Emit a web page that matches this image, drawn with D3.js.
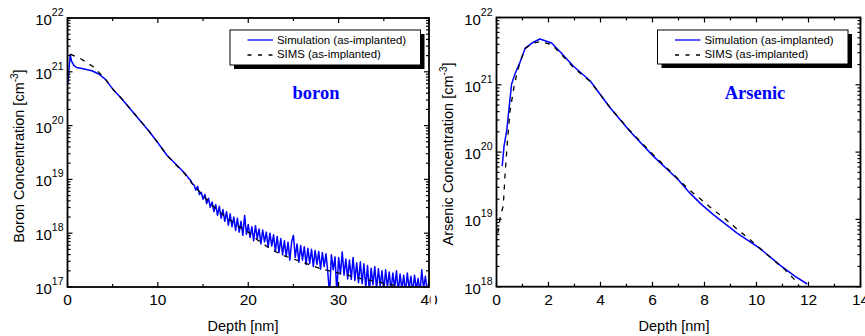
<!DOCTYPE html>
<html><head><meta charset="utf-8">
<script src="https://cdn.jsdelivr.net/npm/d3@7"></script>
<style>body{margin:0;background:#fff} svg{display:block}</style>
</head><body><svg id="c" width="865" height="336"></svg>
<script>
// ---------- DATA (depth nm, log10 concentration cm^-3) ----------
const boronSimHead = [[0.05,20.78],[0.15,21.0],[0.3,21.32],[0.45,21.2],[0.7,21.12],[1.0,21.08],[1.6,21.06],[2.7,21.02],[3.45,20.96],[4.2,20.86],[5.1,20.66],[6,20.5],[7,20.3],[8,20.1],[9,19.9],[10,19.68],[11,19.45],[12,19.28],[13,19.11]];
const boronSimTail = [[13.2,19.07],[13.4,19.02],[13.6,18.99],[13.8,18.92],[14.0,18.90],[14.2,18.80],[14.4,18.87],[14.6,18.72],[14.8,18.76],[15.0,18.63],
[15.2,18.72],[15.4,18.55],[15.6,18.65],[15.8,18.48],[16.0,18.58],[16.2,18.40],[16.4,18.53],[16.6,18.33],[16.8,18.50],[17.0,18.28],
[17.2,18.44],[17.4,18.22],[17.6,18.40],[17.8,18.15],[18.0,18.36],[18.2,18.12],[18.4,18.30],[18.6,18.05],[18.8,18.28],[19.0,18.02],
[19.2,18.22],[19.4,17.96],[19.6,18.33],[19.8,17.98],[20.0,18.16],[20.2,17.92],[20.4,18.12],[20.6,17.86],[20.8,18.14],[21.0,17.90],
[21.2,18.08],[21.4,17.80],[21.6,18.06],[21.8,17.84],[22.0,18.02],[22.2,17.74],[22.4,18.00],[22.6,17.76],[22.8,17.97],[23.0,17.66],
[23.2,17.94],[23.4,17.64],[23.6,17.90],[23.8,17.60],[24.0,17.86],[24.2,17.57],[24.4,17.83],[24.6,17.50],[24.8,17.84],[25.0,17.96],
[25.2,17.55],[25.4,17.80],[25.6,17.46],[25.8,17.77],[26.0,17.50],[26.2,17.75],[26.4,17.42],[26.6,17.72],[26.8,17.44],[27.0,17.70],
[27.2,17.38],[27.4,17.68],[27.6,17.42],[27.8,17.66],[28.0,17.33],[28.2,17.64],[28.4,17.38],[28.6,17.62],[28.8,17.28],[29.0,16.85],
[29.2,17.60],[29.4,17.32],[29.6,17.56],[29.8,16.90],[30.0,17.55],[30.2,17.24],[30.4,17.65],[30.6,17.22],[30.8,17.52],[31.0,17.15],
[31.2,17.50],[31.4,17.14],[31.6,17.55],[31.8,17.12],[32.0,17.45],[32.2,17.08],[32.4,17.47],[32.6,17.06],[32.8,17.43],[33.0,16.98],
[33.2,17.40],[33.4,16.90],[33.6,17.35],[33.8,17.04],[34.0,17.38],[34.2,16.96],[34.4,17.34],[34.6,17.02],[34.8,17.30],[35.0,16.92],
[35.2,17.32],[35.4,16.99],[35.6,17.28],[35.8,16.93],[36.0,17.26],[36.2,16.98],[36.4,17.30],[36.6,16.90],[36.8,17.24],[37.0,16.95],
[37.2,17.22],[37.4,16.88],[37.6,17.26],[37.8,16.97],[38.0,17.20],[38.2,16.90],[38.4,17.22],[38.6,16.95],[38.8,17.16],[39.0,16.88],
[39.2,17.32],[39.4,16.97],[39.6,17.20],[39.8,16.92],[40.0,17.10]];
const boronSims = [[0.3,21.33],[1.4,21.25],[2.9,21.09],[4.2,20.86],[5.1,20.66],[6,20.5],[7,20.3],[8,20.1],[9,19.9],[10,19.68],[11,19.45],[12,19.27],[13,19.1],[14,18.88],[15,18.7],[16,18.52],[17,18.37],[18,18.24],[19,18.12],[20,18.02],[21,17.88],[22,17.76],[23,17.66],[24,17.58],[25,17.52],[26,17.46],[27,17.4],[28,17.34],[29,17.3],[30,17.26],[31,17.22],[32,17.17],[33,17.14],[34,17.11],[35,17.07],[36,17.04],[37,17.0]];
const arsenicSim = [[0.22,19.79],[0.29,20.09],[0.39,20.31],[0.58,21.01],[0.71,21.16],[0.9,21.33],[1.1,21.54],[1.4,21.63],[1.67,21.68],[2.12,21.62],[2.5,21.47],[2.95,21.28],[3.6,21.06],[4.37,20.66],[5.13,20.31],[6.03,19.94],[6.99,19.59],[7.44,19.39],[7.89,19.22],[8.34,19.07],[9.24,18.80],[10.13,18.57],[10.9,18.32],[11.5,18.15],[11.95,18.04]];
const arsenicSims = [[0.05,18.8],[0.15,19.05],[0.26,19.2],[0.33,19.67],[0.42,20.16],[0.52,20.61],[0.67,20.96],[0.78,21.16],[0.9,21.33],[1.1,21.54],[1.4,21.62],[1.67,21.64],[2.12,21.6],[2.5,21.45],[2.95,21.26],[3.6,21.05],[4.37,20.66],[5.13,20.32],[6.03,19.96],[6.99,19.6],[7.44,19.43],[7.89,19.29],[8.34,19.14],[8.79,19.01],[9.24,18.86],[9.69,18.72],[10.13,18.57],[10.58,18.42],[11.1,18.25],[11.55,18.07],[11.65,18.0]];

const leftXMajor = [0,10,20,30,40], leftXMinor = [5,15,25,35];
const leftXLabels = ["0","10","20","30","40"];
const leftYExp = [17,18,19,20,21,22];
const rightXMajor = [0,2,4,6,8,10,12,14], rightXMinor = [1,3,5,7,9,11,13];
const rightXLabels = ["0","2","4","6","8","10","12","14"];
const rightYExp = [18,19,20,21,22];
const legendLabels = ["Simulation (as-implanted)","SIMS (as-implanted)"];

// ---------- DRAW ----------
const svg = d3.select("#c");
const SANS = "'Liberation Sans', Arial, sans-serif";

function panel(o){
  const x = d3.scaleLinear().domain(o.xDomain).range([o.x0,o.x1]);
  const y = d3.scaleLog().domain(o.yDomain).range([o.yBot,o.yTop]);
  const g = svg.append("g");
  const cid = "clip"+o.id;
  svg.append("clipPath").attr("id",cid).append("rect")
    .attr("x",o.x0).attr("y",o.yTop).attr("width",o.x1-o.x0).attr("height",o.yBot-o.yTop);
  const line = d3.line().x(d=>x(d[0])).y(d=>y(Math.pow(10,d[1])));
  const dg = g.append("g").attr("clip-path","url(#"+cid+")");
  dg.append("path").attr("d",line(o.sim)).attr("fill","none").attr("stroke","#0000ff").attr("stroke-width",1.5).attr("stroke-linejoin","round");
  dg.append("path").attr("d",line(o.sims)).attr("fill","none").attr("stroke","#000").attr("stroke-width",1.3).attr("stroke-dasharray","5,6");

  // ticks
  const tk = g.append("g").attr("stroke","#000").attr("stroke-width",1.2);
  o.xMajor.forEach(v=>{const px=x(v);
    tk.append("line").attr("x1",px).attr("x2",px).attr("y1",o.yBot).attr("y2",o.yBot-5);
    tk.append("line").attr("x1",px).attr("x2",px).attr("y1",o.yTop).attr("y2",o.yTop+5);});
  o.xMinor.forEach(v=>{const px=x(v);
    tk.append("line").attr("x1",px).attr("x2",px).attr("y1",o.yBot).attr("y2",o.yBot-3);
    tk.append("line").attr("x1",px).attr("x2",px).attr("y1",o.yTop).attr("y2",o.yTop+3);});
  y.ticks().forEach(v=>{const py=y(v); const major=Math.abs(Math.log10(v)-Math.round(Math.log10(v)))<1e-9; const L=major?5:3;
    tk.append("line").attr("x1",o.x0).attr("x2",o.x0+L).attr("y1",py).attr("y2",py);
    tk.append("line").attr("x1",o.x1).attr("x2",o.x1-L).attr("y1",py).attr("y2",py);});
  // box
  g.append("rect").attr("x",o.x0).attr("y",o.yTop).attr("width",o.x1-o.x0).attr("height",o.yBot-o.yTop)
    .attr("fill","none").attr("stroke","#000").attr("stroke-width",1.8);

  // x tick labels
  o.xMajor.forEach((v,i)=>{
    g.append("text").attr("x",x(v)).attr("y",305).attr("text-anchor","middle")
      .attr("font-family",SANS).attr("font-size",15.5).text(o.xLabels[i]);});
  // y tick labels
  o.yExp.forEach(e=>{
    const t = g.append("text").attr("x",o.x0-4).attr("y",y(Math.pow(10,e))+7).attr("text-anchor","end")
      .attr("font-family",SANS).attr("font-size",15);
    t.append("tspan").text("10");
    t.append("tspan").attr("dy",-9).attr("font-size",10.5).text(e);
  });
  // axis titles
  g.append("text").attr("x",o.xTitleX).attr("y",330.5).attr("text-anchor","middle")
    .attr("font-family",SANS).attr("font-size",14.5).text("Depth [nm]");
  const yt = g.append("text").attr("transform",`translate(${o.yTitleX},${o.yTitleY}) rotate(-90)`)
    .attr("text-anchor","middle").attr("font-family",SANS).attr("font-size",14.5);
  yt.append("tspan").text(o.yTitle+" [cm");
  yt.append("tspan").attr("dy",-6).attr("font-size",10).text("-3");
  yt.append("tspan").attr("dy",6).text("]");

  // legend
  const L = o.leg;
  g.append("rect").attr("x",L.x+4).attr("y",L.y+4).attr("width",L.w).attr("height",L.h).attr("fill","#000");
  g.append("rect").attr("x",L.x).attr("y",L.y).attr("width",L.w).attr("height",L.h).attr("fill","#fff").attr("stroke","#000").attr("stroke-width",1);
  g.append("line").attr("x1",L.x+17.5).attr("x2",L.x+43).attr("y1",L.y+10).attr("y2",L.y+10).attr("stroke","#0000ff").attr("stroke-width",1.3);
  g.append("line").attr("x1",L.x+17.5).attr("x2",L.x+43).attr("y1",L.y+25).attr("y2",L.y+25).attr("stroke","#000").attr("stroke-width",1.3).attr("stroke-dasharray","4,6.5");
  legendLabels.forEach((s,i)=>{
    g.append("text").attr("x",L.x+47).attr("y",L.y+13.8+i*14).attr("font-family",SANS).attr("font-size",11.4).text(s);});
  // annotation
  g.append("text").attr("x",o.ann.x).attr("y",o.ann.y).attr("text-anchor","middle")
    .attr("font-family","'Liberation Serif','Times New Roman',serif").attr("font-weight","bold")
    .attr("font-size",18.5).attr("fill","#0000ff").text(o.ann.text);
}

panel({id:"L", x0:67.5, x1:429, yTop:18, yBot:287, xDomain:[0,40], yDomain:[1e17,1e22],
  sim: boronSimHead.concat(boronSimTail), sims: boronSims,
  xMajor:leftXMajor, xMinor:leftXMinor, xLabels:leftXLabels, yExp:leftYExp,
  xTitleX:243, yTitleX:24, yTitleY:156, yTitle:"Boron Concentration",
  leg:{x:230, y:30, w:190.5, h:35}, ann:{x:316, y:99, text:"boron"}});

// gap between the two pasted figures
svg.append("rect").attr("x",430.5).attr("y",0).attr("width",4.5).attr("height",336).attr("fill","#fff");

panel({id:"R", x0:496.5, x1:860.5, yTop:17.5, yBot:286.7, xDomain:[0,14], yDomain:[1e18,1e22],
  sim: arsenicSim, sims: arsenicSims,
  xMajor:rightXMajor, xMinor:rightXMinor, xLabels:rightXLabels, yExp:rightYExp,
  xTitleX:674, yTitleX:453, yTitleY:154, yTitle:"Arsenic Concentration",
  leg:{x:657.5, y:30, w:190.5, h:34}, ann:{x:755, y:99, text:"Arsenic"}});
</script></body></html>
